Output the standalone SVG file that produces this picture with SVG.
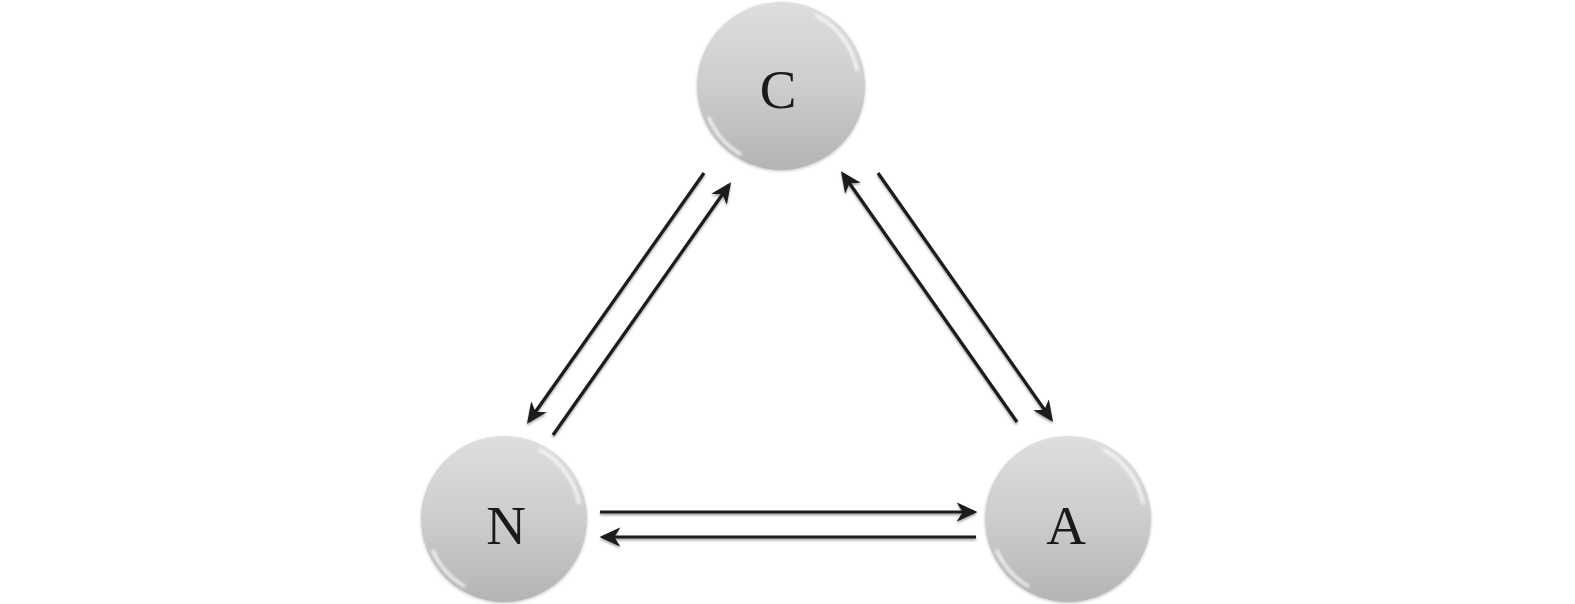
<svg xmlns="http://www.w3.org/2000/svg" width="1575" height="604" viewBox="0 0 1575 604">
<defs>
<linearGradient id="ball" x1="0" y1="0" x2="0" y2="1">
<stop offset="0" stop-color="#dedede"/>
<stop offset="0.5" stop-color="#cdcdcd"/>
<stop offset="1" stop-color="#b4b4b4"/>
</linearGradient>
<marker id="arr" viewBox="0 0 12 12" refX="10" refY="6" markerWidth="6.5" markerHeight="6.5" orient="auto" markerUnits="strokeWidth">
<path d="M0,0.5 L12,6 L0,11.5 L3.5,6 z" fill="#1a1a1a"/>
</marker>
<filter id="sh" x="-10%" y="-10%" width="120%" height="120%">
<feGaussianBlur in="SourceAlpha" stdDeviation="1.2"/>
<feOffset dx="0" dy="1.5"/>
<feComponentTransfer><feFuncA type="linear" slope="0.35"/></feComponentTransfer>
<feMerge><feMergeNode/><feMergeNode in="SourceGraphic"/></feMerge>
</filter>
<filter id="glow" x="-20%" y="-20%" width="140%" height="140%">
<feGaussianBlur stdDeviation="1.5"/>
</filter>
<filter id="ballsh" x="-10%" y="-10%" width="120%" height="120%">
<feGaussianBlur in="SourceAlpha" stdDeviation="1.5"/>
<feOffset dx="0" dy="1"/>
<feComponentTransfer><feFuncA type="linear" slope="0.25"/></feComponentTransfer>
<feMerge><feMergeNode/><feMergeNode in="SourceGraphic"/></feMerge>
</filter>
</defs>
<style>
.node circle.b{fill:url(#ball);filter:url(#ballsh);}
.node path.h{fill:none;stroke:#ffffff;stroke-width:3;stroke-opacity:0.85;stroke-linecap:round;filter:url(#glow);}
.node text{font-family:"Liberation Serif","Times New Roman",serif;font-size:55px;fill:#1a1a1a;text-anchor:middle;}
.edge{stroke:#1a1a1a;stroke-width:3.2;fill:none;marker-end:url(#arr);}
</style>
<rect width="1575" height="604" fill="#ffffff"/>
<g id="node-C" class="node">
<circle class="b" cx="781" cy="86" r="84"/>
<path class="h" d="M817,16 A78,78 0 0 1 857,70"/>
<path class="h" d="M709,118 A78,78 0 0 0 740,154"/>
<text x="778" y="108">C</text>
</g>
<g id="node-N" class="node">
<circle class="b" cx="504" cy="519" r="83"/>
<path class="h" d="M540,450 A77,77 0 0 1 579,503"/>
<path class="h" d="M433,551 A77,77 0 0 0 464,586"/>
<text x="506" y="544">N</text>
</g>
<g id="node-A" class="node">
<circle class="b" cx="1068" cy="519" r="83"/>
<path class="h" d="M1104,450 A77,77 0 0 1 1143,503"/>
<path class="h" d="M997,551 A77,77 0 0 0 1028,586"/>
<text x="1066" y="544">A</text>
</g>
<g id="connectors" filter="url(#sh)">
<line class="edge" x1="704" y1="173" x2="529" y2="421"/>
<line class="edge" x1="553" y1="435" x2="729" y2="185"/>
<line class="edge" x1="1017" y1="422" x2="843" y2="174"/>
<line class="edge" x1="878" y1="173" x2="1051" y2="419"/>
<line class="edge" x1="600" y1="512" x2="974" y2="512"/>
<line class="edge" x1="976" y1="537" x2="603" y2="537"/>
</g>
</svg>
